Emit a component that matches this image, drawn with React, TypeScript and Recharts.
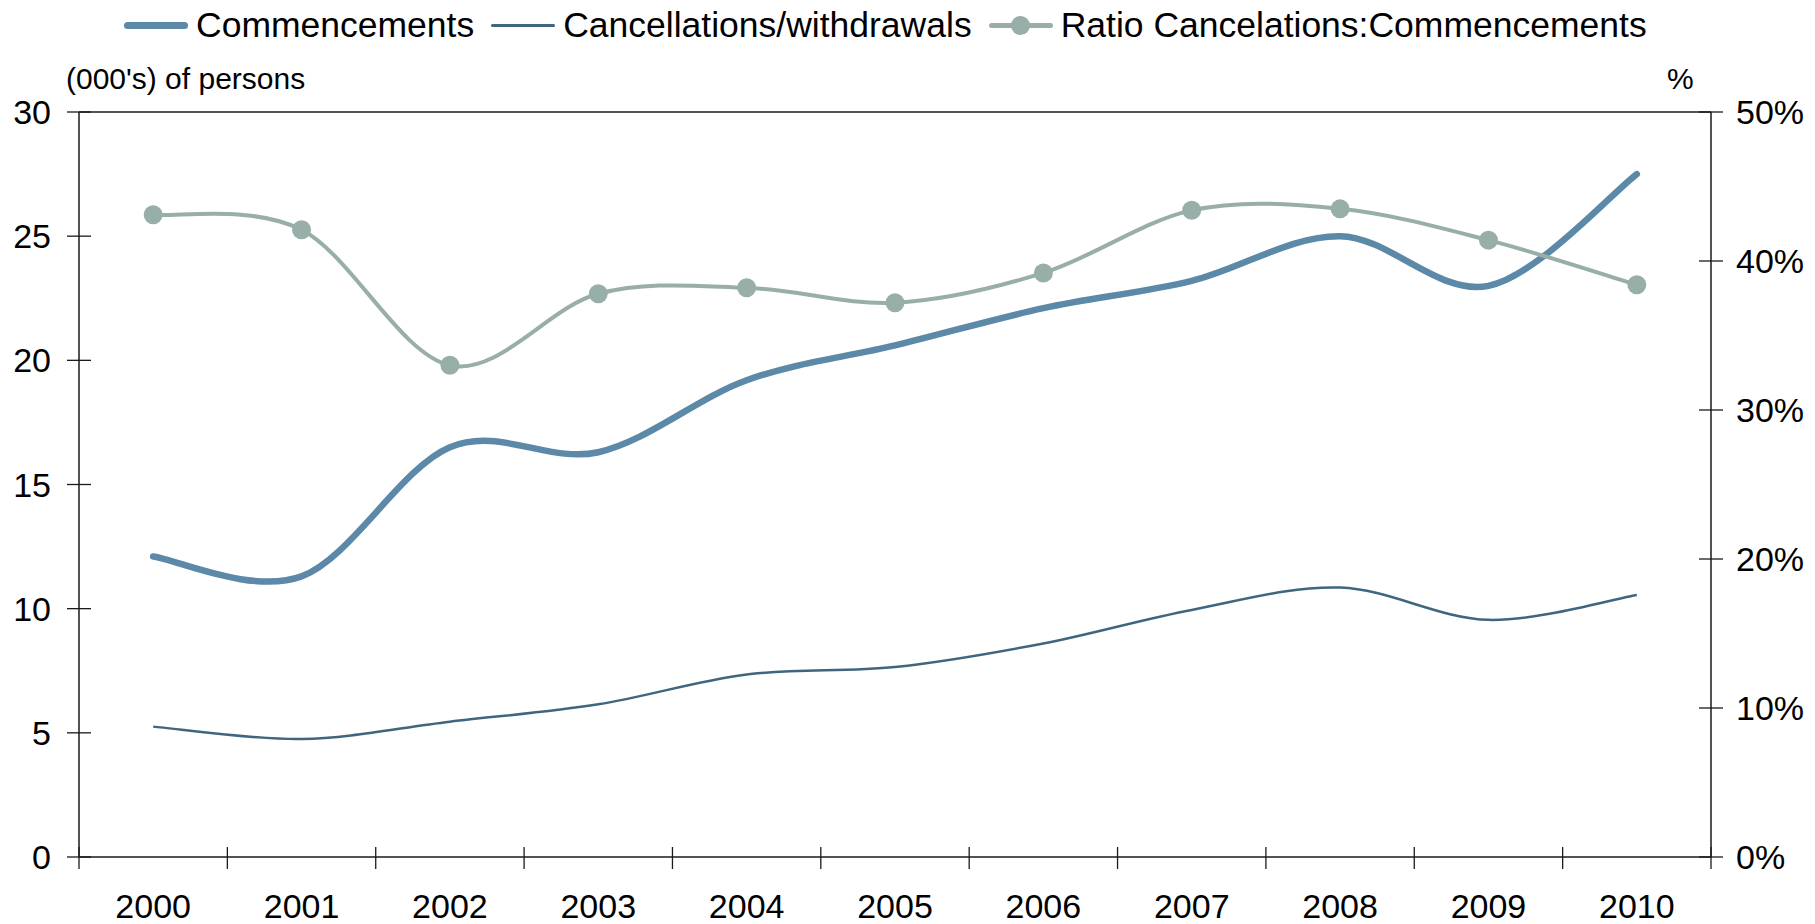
import { Line, LineChart, ReferenceLine, XAxis, YAxis } from "recharts";

const YEARS = ["2000", "2001", "2002", "2003", "2004", "2005", "2006", "2007", "2008", "2009", "2010"];
const COMMENCEMENTS = [12.1, 11.3, 16.5, 16.3, 19.2, 20.6, 22.1, 23.2, 25.0, 23.0, 27.5];
const CANCELLATIONS = [5.25, 4.75, 5.45, 6.15, 7.35, 7.65, 8.6, 9.95, 10.85, 9.55, 10.55];
const RATIO = [43.1, 42.1, 33.0, 37.8, 38.2, 37.2, 39.2, 43.4, 43.5, 41.4, 38.4];
const LEFT_TICKS = [0, 5, 10, 15, 20, 25, 30];
const RIGHT_TICKS = [0, 10, 20, 30, 40, 50];

const COMM_COLOR = "#5b89a7";
const CANC_COLOR = "#40667f";
const RATIO_COLOR = "#98aea8";
const AXIS_COLOR = "#1a1a1a";
const FONT = "'Liberation Sans', Arial, sans-serif";

const W = 1815;
const H = 924;
const LEFT_W = 79;
const RIGHT_W = 104;
// half a category band, so points sit in the middle of each year slot
const HALF_BAND = (W - LEFT_W - RIGHT_W) / YEARS.length / 2;

const data = YEARS.map((year, i) => ({
  year,
  commencements: COMMENCEMENTS[i],
  cancellations: CANCELLATIONS[i],
  ratio: RATIO[i],
}));

// Excel-style smoothed line (Catmull-Rom as cubic beziers)
function excelSmooth(context: any) {
  let pts: [number, number][] = [];
  return {
    areaStart() {},
    areaEnd() {},
    lineStart() {
      pts = [];
    },
    point(x: number, y: number) {
      pts.push([+x, +y]);
    },
    lineEnd() {
      const n = pts.length;
      if (!n) return;
      context.moveTo(pts[0][0], pts[0][1]);
      for (let i = 0; i < n - 1; i++) {
        const p0 = pts[Math.max(i - 1, 0)];
        const p1 = pts[i];
        const p2 = pts[i + 1];
        const p3 = pts[Math.min(i + 2, n - 1)];
        context.bezierCurveTo(
          p1[0] + (p2[0] - p0[0]) / 6,
          p1[1] + (p2[1] - p0[1]) / 6,
          p2[0] - (p3[0] - p1[0]) / 6,
          p2[1] - (p3[1] - p1[1]) / 6,
          p2[0],
          p2[1]
        );
      }
    },
  };
}

function LeftTick({ x, y, payload }: any) {
  return (
    <g>
      <line x1={x - 12} x2={x + 12} y1={y} y2={y} stroke={AXIS_COLOR} strokeWidth={1.3} />
      <text x={x - 28} y={y} textAnchor="end" dominantBaseline="central" fontSize={34} fill="#000" fontFamily={FONT}>
        {payload.value}
      </text>
    </g>
  );
}

function RightTick({ x, y, payload }: any) {
  return (
    <g>
      <line x1={x - 12} x2={x + 12} y1={y} y2={y} stroke={AXIS_COLOR} strokeWidth={1.3} />
      <text x={x + 25} y={y} textAnchor="start" dominantBaseline="central" fontSize={34} fill="#000" fontFamily={FONT}>
        {payload.value}%
      </text>
    </g>
  );
}

function YearTick({ x, y, payload, index }: any) {
  const half = payload.offset || HALF_BAND;
  return (
    <g>
      <line x1={x - half} x2={x - half} y1={y - 10} y2={y + 12} stroke={AXIS_COLOR} strokeWidth={1.3} />
      {index === YEARS.length - 1 && (
        <line x1={x + half} x2={x + half} y1={y - 10} y2={y + 12} stroke={AXIS_COLOR} strokeWidth={1.3} />
      )}
      <text x={x} y={y + 61} textAnchor="middle" fontSize={34} fill="#000" fontFamily={FONT}>
        {payload.value}
      </text>
    </g>
  );
}

function LegendItem({ color, thickness, dot, label }: { color: string; thickness: number; dot?: boolean; label: string }) {
  return (
    <div style={{ display: "flex", alignItems: "center", marginRight: 17 }}>
      <div style={{ position: "relative", width: 64, height: 20, marginRight: 8 }}>
        <div
          style={{
            position: "absolute",
            left: 0,
            right: 0,
            top: 10 - thickness / 2,
            height: thickness,
            borderRadius: thickness,
            background: color,
          }}
        />
        {dot && (
          <div
            style={{
              position: "absolute",
              left: 32 - 9.5,
              top: 0.5,
              width: 19,
              height: 19,
              borderRadius: "50%",
              background: color,
            }}
          />
        )}
      </div>
      <span style={{ fontSize: 35.5, color: "#000", whiteSpace: "nowrap" }}>{label}</span>
    </div>
  );
}

export default function App() {
  return (
    <div style={{ position: "absolute", left: 0, top: 0, width: W, height: H, fontFamily: FONT, background: "#fff" }}>
      <div style={{ position: "absolute", left: 124, top: 4, height: 42, display: "flex", alignItems: "center" }}>
        <LegendItem color={COMM_COLOR} thickness={7} label="Commencements" />
        <LegendItem color={CANC_COLOR} thickness={3} label="Cancellations/withdrawals" />
        <LegendItem color={RATIO_COLOR} thickness={5} dot label="Ratio Cancelations:Commencements" />
      </div>
      <div style={{ position: "absolute", left: 66, top: 62, fontSize: 30, color: "#000", lineHeight: "34px" }}>
        (000's) of persons
      </div>
      <div style={{ position: "absolute", left: 1667, top: 62, fontSize: 30, color: "#000", lineHeight: "34px" }}>%</div>
      <div style={{ position: "absolute", left: 0, top: 0 }}>
        <LineChart width={W} height={H} data={data} margin={{ top: 112, right: 0, bottom: 7, left: 0 }}>
          <XAxis
            dataKey="year"
            height={60}
            padding={{ left: HALF_BAND, right: HALF_BAND }}
            stroke={AXIS_COLOR}
            strokeWidth={1.5}
            tickLine={false}
            tickSize={0}
            tickMargin={0}
            interval={0}
            tick={<YearTick />}
          />
          <YAxis
            yAxisId="left"
            orientation="left"
            width={LEFT_W}
            domain={[0, 30]}
            ticks={LEFT_TICKS}
            stroke={AXIS_COLOR}
            strokeWidth={1.5}
            tickLine={false}
            tickSize={0}
            tickMargin={0}
            interval={0}
            tick={<LeftTick />}
          />
          <YAxis
            yAxisId="right"
            orientation="right"
            width={RIGHT_W}
            domain={[0, 50]}
            ticks={RIGHT_TICKS}
            stroke={AXIS_COLOR}
            strokeWidth={1.5}
            tickLine={false}
            tickSize={0}
            tickMargin={0}
            interval={0}
            tick={<RightTick />}
          />
          <ReferenceLine yAxisId="left" y={30} stroke={AXIS_COLOR} strokeWidth={1.3} />
          <Line
            yAxisId="left"
            dataKey="cancellations"
            type={excelSmooth as any}
            stroke={CANC_COLOR}
            strokeWidth={2.5}
            dot={false}
            activeDot={false}
            isAnimationActive={false}
          />
          <Line
            yAxisId="left"
            dataKey="commencements"
            type={excelSmooth as any}
            stroke={COMM_COLOR}
            strokeWidth={6.5}
            strokeLinecap="round"
            dot={false}
            activeDot={false}
            isAnimationActive={false}
          />
          <Line
            yAxisId="right"
            dataKey="ratio"
            type={excelSmooth as any}
            stroke={RATIO_COLOR}
            strokeWidth={4}
            dot={{ r: 9.5, fill: RATIO_COLOR, stroke: RATIO_COLOR, strokeWidth: 0 }}
            activeDot={false}
            isAnimationActive={false}
          />
        </LineChart>
      </div>
    </div>
  );
}
